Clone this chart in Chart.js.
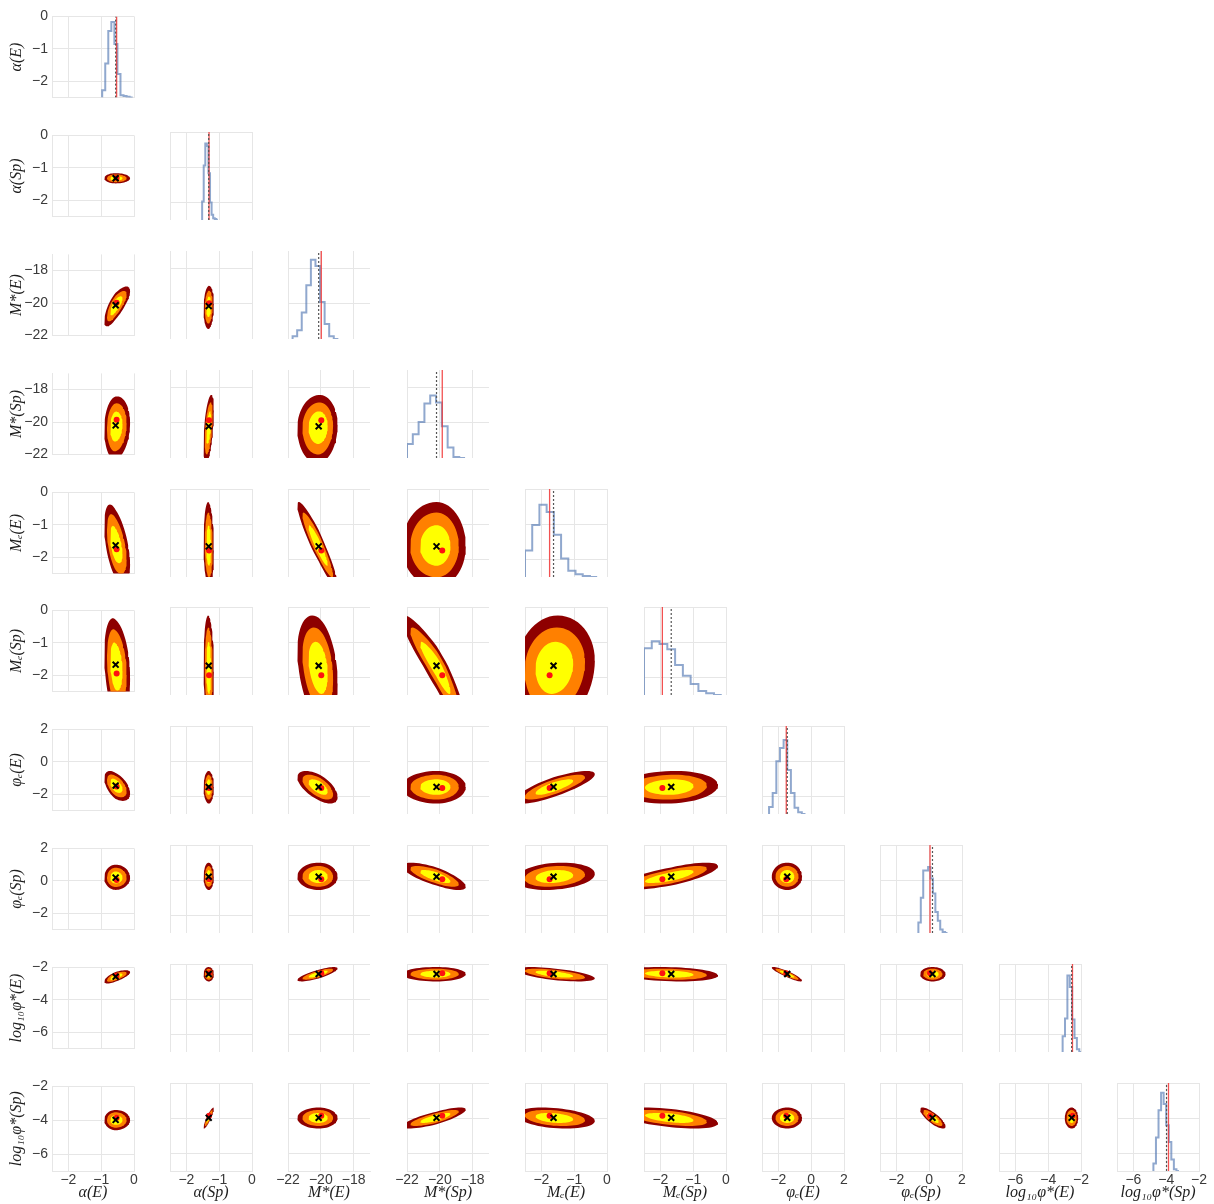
<!DOCTYPE html>
<html>
<head>
<meta charset="utf-8">
<title>Corner plot</title>
<script src="https://cdn.jsdelivr.net/npm/chart.js@4/dist/chart.umd.min.js"></script>
<style>
  html, body { margin: 0; padding: 0; background: #fff; }
  #grid { position: relative; width: 1214px; height: 1204px; overflow: hidden; }
  #grid canvas { position: absolute; }
</style>
</head>
<body>
<div id="grid"></div>
<script>
// one entry per parameter (row / column of the corner plot)
const paramLabels = ['α(E)', 'α(Sp)', 'M*(E)', 'M*(Sp)', 'Mₑ(E)', 'Mₑ(Sp)', 'φₑ(E)', 'φₑ(Sp)', 'log₁₀φ*(E)', 'log₁₀φ*(Sp)'];
const axisMin = [-2.5, -2.5, -22, -22, -2.5, -2.5, -3, -3, -7, -7];
const axisMax = [0, 0, -17, -17, 0, 0, 2, 2, -2, -2];
const axisTicks = [
  [-2, -1, 0], [-2, -1, 0], [-22, -20, -18], [-22, -20, -18], [-2, -1, 0],
  [-2, -1, 0], [-2, 0, 2], [-2, 0, 2], [-6, -4, -2], [-6, -4, -2]
];

// red line / red dot = input value, dotted line / black cross = fitted value
const trueValues = [-0.53, -1.31, -19.97, -19.85, -1.75, -1.94, -1.52, 0.05, -2.52, -3.86];
const fitValues = [-0.56, -1.32, -20.13, -20.2, -1.63, -1.67, -1.46, 0.2, -2.57, -3.98];

// 1-level spread of the contours below / above the fitted value
const spreadLow = [0.165, 0.075, 0.62, 1.0, 0.55, 0.8, 0.45, 0.36, 0.2, 0.29];
const spreadHigh = [0.21, 0.075, 0.55, 0.85, 0.6, 0.68, 0.43, 0.38, 0.19, 0.28];

// pairwise correlation, correlation[row][col]
const correlation = [
  [],
  [0],
  [0.75, 0.1],
  [0.1, 0.5, 0.05],
  [-0.5, -0.1, -0.93, 0],
  [-0.25, -0.1, -0.3, -0.92, 0.1],
  [-0.5, 0, -0.6, 0, 0.8, 0.1],
  [0, 0, 0, -0.75, 0.2, 0.75, 0],
  [0.7, 0, 0.8, 0, -0.6, -0.2, -0.9, 0],
  [0, 0.9, 0, 0.8, -0.3, -0.5, 0, -0.8, 0]
];
const contourLevels = [2.1, 1.6, 1];
const contourColors = ['#8e0000', '#ff8000', '#ffff00'];

// marginal histograms (heights as a fraction of the panel)
const histStart = [-0.97, -1.52, -21.72, -22.0, -2.5, -2.5, -2.57, -0.66, -3.12, -4.78];
const histBin = [0.093, 0.048, 0.279, 0.354, 0.22, 0.237, 0.222, 0.148, 0.145, 0.156];
const histHeights = [
  [0.01, 0.09, 0.42, 0.82, 0.93, 0.66, 0.29, 0.03, 0.02, 0.01],
  [0.04, 0.21, 0.62, 0.87, 0.84, 0.53, 0.2, 0.06, 0.02, 0.01],
  [0.015, 0.03, 0.1, 0.3, 0.61, 0.9, 0.83, 0.42, 0.17, 0.03],
  [0.08, 0.16, 0.27, 0.41, 0.62, 0.71, 0.63, 0.36, 0.12, 0.01],
  [0.13, 0.3, 0.59, 0.82, 0.74, 0.48, 0.21, 0.07, 0.03, 0.01],
  [0.37, 0.53, 0.61, 0.58, 0.52, 0.34, 0.22, 0.125, 0.045, 0.02],
  [0.01, 0.08, 0.24, 0.6, 0.75, 0.84, 0.5, 0.24, 0.07, 0.02],
  [0.01, 0.12, 0.4, 0.71, 0.71, 0.75, 0.62, 0.45, 0.24, 0.14, 0.04, 0.01],
  [0.03, 0.18, 0.38, 0.87, 0.74, 0.37, 0.16, 0.03],
  [0.02, 0.085, 0.38, 0.69, 0.89, 0.76, 0.52, 0.33, 0.13, 0.02]
];

(function () {
  'use strict';

  Chart.defaults.animation = false;
  Chart.defaults.events = [];
  Chart.defaults.font.family = "'Liberation Sans', Arial, sans-serif";
  Chart.defaults.plugins.legend.display = false;
  Chart.defaults.plugins.tooltip.enabled = false;

  const GRID = '#e6e6e6';
  const SERIF = "'Liberation Serif', 'DejaVu Serif', serif";
  const LEFT0 = 51.5, TOP0 = 13.3, STEP_X = 118.4, STEP_Y = 118.8;
  const AREA_W = 82, AREA_H = 88;
  const N = paramLabels.length;
  const host = document.getElementById('grid');

  const fmt = (v) => (v < 0 ? '\u2212' + Math.abs(v) : String(v));

  function axisFor(v, showLabels, size, horizontal) {
    return {
      type: 'linear',
      min: axisMin[v], max: axisMax[v],
      afterBuildTicks: (s) => { s.ticks = axisTicks[v].map((t) => ({ value: t })); },
      afterFit: (s) => { if (horizontal) s.height = size; else s.width = size; },
      grid: { color: GRID, lineWidth: 1, drawTicks: false },
      border: { display: true, color: GRID, width: 1 },
      ticks: {
        display: showLabels, padding: horizontal ? 1 : 4, color: '#3a3a3a',
        font: { size: 14 }, callback: fmt, maxRotation: 0, autoSkip: false
      },
      title: {
        display: showLabels, text: paramLabels[v], color: '#1e1e1e',
        font: { family: SERIF, size: 16, style: 'italic' },
        padding: horizontal ? { top: 0, bottom: 3 } : { top: 7, bottom: 0 }
      }
    };
  }

  function histPoints(i) {
    const pts = [{ x: histStart[i], y: 0 }];
    histHeights[i].forEach((h, n) => pts.push({ x: histStart[i] + n * histBin[i], y: h }));
    pts.push({ x: histStart[i] + histHeights[i].length * histBin[i], y: 0 });
    return pts;
  }

  // closed contour around the fitted value for the pair (col i, row j)
  function contourRing(i, j, k) {
    const rho = correlation[j][i];
    const pts = [];
    for (let n = 0; n < 60; n++) {
      const t = (n / 60) * 2 * Math.PI;
      const u = Math.cos(t);
      const w = rho * u + Math.sqrt(1 - rho * rho) * Math.sin(t);
      pts.push({
        x: fitValues[i] + k * u * (u < 0 ? spreadLow[i] : spreadHigh[i]),
        y: fitValues[j] + k * w * (w < 0 ? spreadLow[j] : spreadHigh[j])
      });
    }
    return pts;
  }

  function diagDatasets(i) {
    return [
      { data: [{ x: fitValues[i], y: 0 }, { x: fitValues[i], y: 1 }], yAxisID: 'yh', showLine: true,
        borderColor: '#555', borderWidth: 1.2, borderDash: [2, 2], pointRadius: 0, order: 0 },
      { data: [{ x: trueValues[i], y: 0 }, { x: trueValues[i], y: 1 }], yAxisID: 'yh', showLine: true,
        borderColor: 'rgba(240,50,50,0.85)', borderWidth: 1.3, pointRadius: 0, order: 1 },
      { data: histPoints(i), yAxisID: 'yh', showLine: true, stepped: 'after',
        borderColor: 'rgba(76,114,176,0.62)', borderWidth: 2, pointRadius: 0, order: 2 }
    ];
  }

  function pairDatasets(i, j) {
    const sets = [
      { data: [{ x: fitValues[i], y: fitValues[j] }], pointStyle: 'crossRot', pointRadius: 4.2,
        borderColor: '#000', borderWidth: 2, order: 0 },
      { data: [{ x: trueValues[i], y: trueValues[j] }], pointStyle: 'circle', pointRadius: 3,
        backgroundColor: '#ff1010', borderWidth: 0, order: 1 }
    ];
    contourLevels.forEach((k, n) => {
      sets.push({
        data: contourRing(i, j, k), showLine: true, fill: 'shape', borderWidth: 0,
        backgroundColor: contourColors[n], pointRadius: 0, order: 4 - n
      });
    });
    return sets;
  }

  function addPanel(r, c) {
    const isLeft = c === 0, isBottom = r === N - 1;
    const axisW = isLeft ? 52 : 0;
    const axisH = isBottom ? 34 : 0;
    const pad = {
      left: isBottom && !isLeft ? 16 : 0,
      right: isBottom ? 14 : 2,
      top: isLeft ? 9 : 2,
      bottom: isLeft && !isBottom ? 9 : 0
    };
    const areaLeft = Math.round(LEFT0 + c * STEP_X);
    const areaTop = Math.round(TOP0 + r * STEP_Y);

    const canvas = document.createElement('canvas');
    canvas.width = pad.left + axisW + AREA_W + pad.right;
    canvas.height = pad.top + AREA_H + axisH + pad.bottom;
    canvas.style.left = (areaLeft - axisW - pad.left) + 'px';
    canvas.style.top = (areaTop - pad.top) + 'px';
    host.appendChild(canvas);

    const scales = {
      x: axisFor(c, isBottom, axisH, true),
      y: axisFor(r, isLeft, axisW, false)
    };
    if (r === c) scales.yh = { type: 'linear', display: false, min: 0, max: 1 };

    new Chart(canvas, {
      type: 'scatter',
      data: { datasets: r === c ? diagDatasets(c) : pairDatasets(c, r) },
      options: {
        responsive: false,
        devicePixelRatio: 1,
        layout: { autoPadding: false, padding: pad },
        scales: scales
      }
    });
  }

  for (let r = 0; r < N; r++) {
    for (let c = 0; c <= r; c++) addPanel(r, c);
  }
})();
</script>
</body>
</html>
